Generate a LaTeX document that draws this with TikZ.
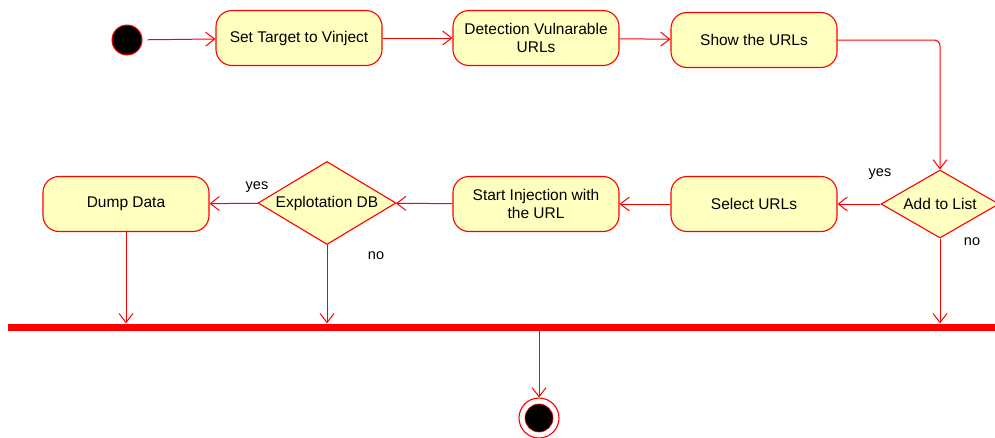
\documentclass[tikz,border=0pt]{standalone}
\usepackage{fontspec}
\setmainfont{Liberation Sans}
\usetikzlibrary{arrows.meta,shapes.geometric}
\definecolor{uline}{HTML}{FF0000}
\definecolor{ufill}{HTML}{FFFFC0}
\tikzset{%
    >={Straight Barb[length=9pt,width=14pt]},
    action/.style={draw=uline, fill=ufill, rounded corners=16pt, line width=1.1pt,
        minimum width=166pt, minimum height=55pt, align=center,
        font=\fontsize{15.5}{18}\selectfont},
    decision/.style={draw=uline, fill=ufill, diamond, line width=1.1pt, inner sep=0pt,
        font=\fontsize{15.5}{18}\selectfont},
    flow/.style={draw=uline, ->, line width=1pt},
    guard/.style={font=\fontsize{14.5}{17}\selectfont}
}

\begin{document}
\begin{tikzpicture}[x=1pt,y=-1pt]
        \useasboundingbox (0,0) rectangle (995,437);

        % top row
        \node[circle, fill=black, draw=uline, line width=1pt, minimum size=30pt, inner sep=0pt] (start) at (127,40) {};
        \node[action] (target) at (299,38) {Set Target to Vinject};
        \node[action] (detect) at (536,38) {Detection Vulnarable\\URLs};
        \node[action] (show) at (754,40) {Show the URLs};

        % second row
        \node[decision, shape aspect=1.74, minimum width=118pt, minimum height=68pt] (add) at (940,204) {Add to List};
        \node[action] (select) at (754,204) {Select URLs};
        \node[action] (inject) at (536,204) {Start Injection with\\the URL};
        \node[decision, shape aspect=1.66, minimum width=138pt, minimum height=83pt] (explo) at (327,203) {Explotation DB};
        \node[action] (dump) at (126,204) {Dump Data};

        % join bar and end
        \node[fill=uline, minimum width=987pt, minimum height=7pt, inner sep=0pt] (bar) at (501.5,327) {};
        \node[circle, draw=uline, fill=white, line width=1.1pt, minimum size=40pt, inner sep=0pt] (final) at (539,418) {};
        \fill[black, draw=uline, line width=0.6pt] (final.center) circle [radius=14pt];

        \draw[flow, shorten <=5pt] (start) -- (target);
        \draw[flow] (target) -- (detect);
        \draw[flow] (detect) -- (show);
        \draw[flow, rounded corners=6pt] (show.east) -| (add.north);
        \draw[flow] (add) -- (select);
        \draw[flow] (select) -- (inject);
        \draw[flow] (inject) -- (explo);
        \draw[flow] (explo) -- (dump);
        \draw[flow] (dump.south) -- (dump.south |- bar.north);
        \draw[flow] (explo.south) -- (explo.south |- bar.north);
        \draw[flow] (add.south) -- (add.south |- bar.north);
        \draw[flow] (final |- bar.south) -- (final.north);

        \node[guard] at (880,174) {yes};
        \node[guard] at (972,242) {no};
        \node[guard] at (257,187) {yes};
        \node[guard] at (376,256) {no};
\end{tikzpicture}
\end{document}
